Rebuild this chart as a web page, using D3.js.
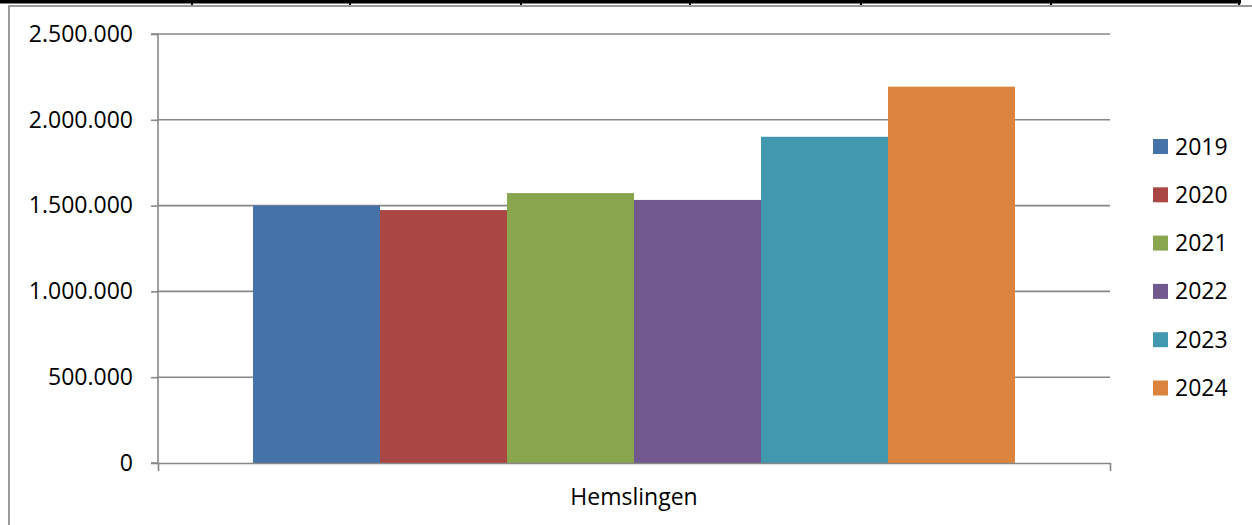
<!DOCTYPE html>
<html>
<head>
<meta charset="utf-8">
<script src="https://cdn.jsdelivr.net/npm/d3@7"></script>
<style>
  html, body { margin: 0; padding: 0; background: #fff; }
  svg { display: block; font-family: "Open Sans", "Liberation Sans", sans-serif; }
</style>
</head>
<body>
<svg id="chart" width="1252" height="525"></svg>
<script>
// Data
const categories = ["Hemslingen"];
const years = ["2019", "2020", "2021", "2022", "2023", "2024"];
const values = [1500000, 1474000, 1573000, 1533000, 1901000, 2193000];
const colors = ["#4572A7", "#AA4643", "#89A54E", "#71588F", "#4198AF", "#DB843D"];
const yTicks = [0, 500000, 1000000, 1500000, 2000000, 2500000];
// Column boundaries of the table row above the chart
const tableCols = [0, 192, 350, 521, 690, 861, 1051, 1239];

const svg = d3.select("#chart");
const W = 1252, H = 525;
const plot = { left: 158, right: 1110, top: 34, bottom: 463 };
const gridColor = "#878787";

const locale = d3.formatLocale({ decimal: ",", thousands: ".", grouping: [3], currency: ["", " kr"] });
const fmt = locale.format(",d");

// Outer chart frame (partially visible)
svg.append("path")
  .attr("d", `M9,${H} V6 H${W}`)
  .attr("fill", "none").attr("stroke", "#9a9a9a").attr("stroke-width", 2);

// Table border above
svg.append("rect").attr("x", 0).attr("y", 0).attr("width", 1241).attr("height", 3.5).attr("fill", "#000");
tableCols.slice(1).forEach(x => {
  svg.append("rect").attr("x", x - 1).attr("y", 0).attr("width", 2).attr("height", 5).attr("fill", "#000");
});

const y = d3.scaleLinear().domain([0, 2500000]).range([plot.bottom, plot.top]);
const x0 = d3.scaleBand().domain(categories).range([plot.left, plot.right]).paddingInner(0).paddingOuter(0.1247);
const x1 = d3.scaleBand().domain(years).range([0, x0.bandwidth()]).padding(0);

// Gridlines
svg.append("g").selectAll("line").data(yTicks.slice(1)).join("line")
  .attr("x1", plot.left).attr("x2", plot.right)
  .attr("y1", d => y(d)).attr("y2", d => y(d))
  .attr("stroke", gridColor).attr("stroke-width", 1.6);

// Bars
const g = svg.append("g").selectAll("g").data(categories).join("g")
  .attr("transform", d => `translate(${x0(d)},0)`);
g.selectAll("rect").data(years.map((yr, i) => ({ yr, v: values[i], c: colors[i] }))).join("rect")
  .attr("x", d => x1(d.yr))
  .attr("width", x1.bandwidth())
  .attr("y", d => y(d.v))
  .attr("height", d => y(0) - y(d.v))
  .attr("fill", d => d.c);

// Y axis
const yAxis = d3.axisLeft(y).tickValues(yTicks).tickFormat(fmt).tickSize(7).tickPadding(18);
const ya = svg.append("g").attr("transform", `translate(${plot.left},0)`).call(yAxis);
ya.select(".domain").attr("stroke", gridColor).attr("stroke-width", 1.6).attr("d", `M-7,${plot.bottom}H0V${plot.top}H-7`);
ya.selectAll(".tick line").attr("stroke", gridColor).attr("stroke-width", 1.6);
ya.selectAll(".tick text").attr("font-size", 23).attr("fill", "#000").attr("font-family", "'Open Sans', sans-serif");

// X axis
const xAxis = d3.axisBottom(d3.scaleLinear().domain([0, 1]).range([plot.left, plot.right]))
  .tickValues([0, 1]).tickFormat("").tickSize(8).tickSizeOuter(0);
const xa = svg.append("g").attr("transform", `translate(0,${plot.bottom})`).call(xAxis);
xa.select(".domain").attr("stroke", gridColor).attr("stroke-width", 1.6);
xa.selectAll(".tick line").attr("stroke", gridColor).attr("stroke-width", 1.6);

// Category label
svg.append("text")
  .attr("x", x0("Hemslingen") + x0.bandwidth() / 2).attr("y", 505)
  .attr("text-anchor", "middle").attr("font-size", 23).attr("fill", "#000")
  .text(categories[0]);

// Legend
const legend = svg.append("g").attr("transform", "translate(1153,139)");
const li = legend.selectAll("g").data(years).join("g")
  .attr("transform", (d, i) => `translate(0,${i * 48.3})`);
li.append("rect").attr("width", 15).attr("height", 15).attr("fill", (d, i) => colors[i]);
li.append("text").attr("x", 22).attr("y", 7.5).attr("dy", "0.35em")
  .attr("font-size", 23).attr("fill", "#000").text(d => d);
</script>
</body>
</html>
